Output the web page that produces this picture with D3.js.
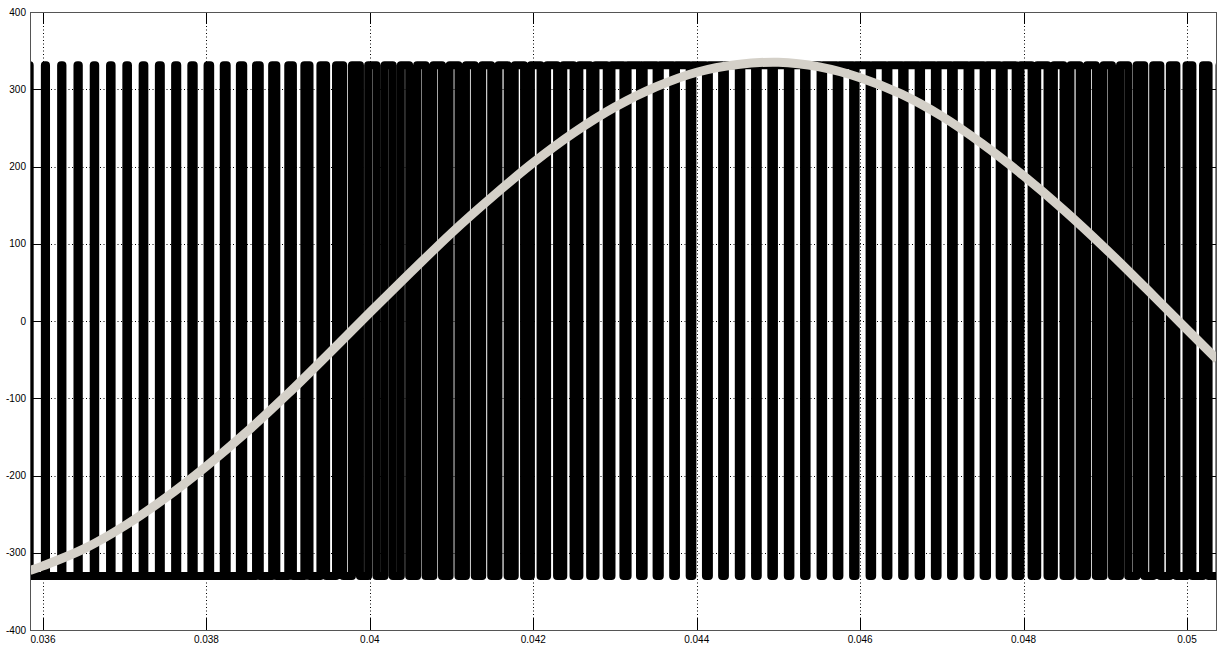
<!DOCTYPE html>
<meta charset="utf-8">

<!-- Load d3.js -->
<script src="https://d3js.org/d3.v7.min.js"></script>

<body>
	<!-- Create a div where the graph will take place -->
	<div id="my_dataviz"></div>
</body>

<style>
body {
  margin: 0;
  background: #fff;
}
.tick-label {
  font-family: Arial, "Liberation Sans", sans-serif;
  font-size: 10px;
  fill: #000;
}
</style>

<script>

	// PWM output: centre of each high pulse (s) and its width (microseconds)
	var pulseCenters = [
		0.03583, 0.03603, 0.03623, 0.03643, 0.03663, 0.03683, 0.03703, 0.03723, 0.03743, 0.03763,
		0.03783, 0.03803, 0.03823, 0.03843, 0.03863, 0.03883, 0.03903, 0.03923, 0.03943, 0.03963,
		0.03983, 0.04003, 0.04023, 0.04043, 0.04063, 0.04083, 0.04103, 0.04123, 0.04143, 0.04163,
		0.04183, 0.04203, 0.04223, 0.04243, 0.04263, 0.04283, 0.04303, 0.04323, 0.04343, 0.04363,
		0.04383, 0.04403, 0.04423, 0.04443, 0.04463, 0.04483, 0.04503, 0.04523, 0.04543, 0.04563,
		0.04583, 0.04603, 0.04623, 0.04643, 0.04663, 0.04683, 0.04703, 0.04723, 0.04743, 0.04763,
		0.04783, 0.04803, 0.04823, 0.04843, 0.04863, 0.04883, 0.04903, 0.04923, 0.04943, 0.04963,
		0.04983, 0.05003, 0.05023, 0.05043
	];
	var pulseWidthsUs = [
		14, 14, 16, 16, 18, 19, 20, 21, 24, 26,
		29, 32, 36, 41, 46, 51, 57, 63, 70, 88,
		98, 102, 100, 102, 104, 106, 108, 108, 110, 112,
		114, 118, 122, 126, 132, 138, 146, 152, 158, 164,
		168, 166, 162, 170, 168, 166, 170, 167, 171, 166,
		168, 171, 166, 168, 172, 169, 165, 168, 162, 155,
		146, 136, 126, 118, 112, 108, 104, 100, 94, 88,
		80, 72, 68, 64
	];
	var levelHigh = 331;
	var levelLow = -330;

	// grey reference wave
	var refTimes = [
		0.03584, 0.0360, 0.0365, 0.0370, 0.0375, 0.0380, 0.0385, 0.0390, 0.0395, 0.0400,
		0.0405, 0.0410, 0.0415, 0.0420, 0.0425, 0.0430, 0.0435, 0.0440, 0.0445, 0.0450,
		0.0455, 0.0460, 0.0465, 0.0470, 0.0475, 0.0480, 0.0485, 0.0490, 0.0495, 0.0500,
		0.05037
	];
	var refValues = [
		-323, -317, -295, -265, -229, -188, -143, -94, -42, 11,
		63, 114, 161, 205, 244, 277, 303, 322, 332, 335,
		329, 315, 294, 265, 229, 188, 143, 94, 42, -11,
		-50
	];

	var xTicks = [0.036, 0.038, 0.04, 0.042, 0.044, 0.046, 0.048, 0.05];
	var xTickLabels = ["0.036", "0.038", "0.04", "0.042", "0.044", "0.046", "0.048", "0.05"];
	var yTicks = [-400, -300, -200, -100, 0, 100, 200, 300, 400];

	//set the dimensions and margins of the graph
	var margin = {top: 12, right: 6, bottom: 20, left: 30},
	    width = 1223 - margin.left - margin.right,
	    height = 650 - margin.top - margin.bottom;
	var tickLen = 12;

	var svg = d3.select("#my_dataviz")
		.append("svg")
		.attr("width", 1223)
		.attr("height", 650)
		.append("g")
		.attr("transform", "translate(" + margin.left + "," + margin.top + ")");

	var x = d3.scaleLinear()
		.domain([0.035841, 0.050367])
		.range([0, width]);

	var y = d3.scaleLinear()
		.domain([-400, 400])
		.range([height, 0]);

	svg.append("clipPath")
		.attr("id", "plot-clip")
		.append("rect")
		.attr("width", width)
		.attr("height", height);

	// dotted grid
	var grid = svg.append("g").attr("class", "grid");
	grid.selectAll(".gx").data(xTicks).enter()
		.append("line")
		.attr("x1", function(d) { return Math.round(x(d)) + 0.5; })
		.attr("x2", function(d) { return Math.round(x(d)) + 0.5; })
		.attr("y1", 0)
		.attr("y2", height)
		.attr("stroke", "#000")
		.attr("stroke-width", 1)
		.attr("stroke-dasharray", "1,2.5");
	grid.selectAll(".gy").data(yTicks.slice(1, -1)).enter()
		.append("line")
		.attr("y1", function(d) { return Math.round(y(d)) + 0.5; })
		.attr("y2", function(d) { return Math.round(y(d)) + 0.5; })
		.attr("x1", 0)
		.attr("x2", width)
		.attr("stroke", "#000")
		.attr("stroke-width", 1)
		.attr("stroke-dasharray", "1,2.5");

	// inward ticks on all four sides
	var ticks = svg.append("g").attr("class", "ticks").attr("stroke", "#000").attr("stroke-width", 1);
	xTicks.forEach(function(d) {
		var px = Math.round(x(d)) + 0.5;
		ticks.append("line").attr("x1", px).attr("x2", px).attr("y1", height).attr("y2", height - tickLen);
		ticks.append("line").attr("x1", px).attr("x2", px).attr("y1", 0).attr("y2", tickLen);
	});
	yTicks.forEach(function(d) {
		var py = Math.round(y(d)) + 0.5;
		ticks.append("line").attr("y1", py).attr("y2", py).attr("x1", 0).attr("x2", tickLen);
		ticks.append("line").attr("y1", py).attr("y2", py).attr("x1", width).attr("x2", width - tickLen);
	});

	// build PWM step points from the pulse arrays
	var pwmPoints = [[x.domain()[0] - 0.0002, levelLow]];
	pulseCenters.forEach(function(c, i) {
		var half = pulseWidthsUs[i] * 1e-6 / 2;
		pwmPoints.push([c - half, levelHigh]);
		pwmPoints.push([c + half, levelLow]);
	});
	pwmPoints.push([x.domain()[1] + 0.0002, levelLow]);

	var plot = svg.append("g").attr("clip-path", "url(#plot-clip)");

	plot.append("path")
		.datum(pwmPoints)
		.attr("fill", "none")
		.attr("stroke", "#000")
		.attr("stroke-width", 8)
		.attr("stroke-linejoin", "round")
		.attr("d", d3.line()
			.x(function(d) { return x(d[0]); })
			.y(function(d) { return y(d[1]); })
			.curve(d3.curveStepAfter));

	plot.append("path")
		.datum(refTimes.map(function(t, i) { return [t, refValues[i]]; }))
		.attr("fill", "none")
		.attr("stroke", "#d4d0c8")
		.attr("stroke-width", 9)
		.attr("stroke-linejoin", "round")
		.attr("d", d3.line()
			.x(function(d) { return x(d[0]); })
			.y(function(d) { return y(d[1]); })
			.curve(d3.curveCatmullRom));

	// axes box
	svg.append("rect")
		.attr("x", 0.5)
		.attr("y", 0.5)
		.attr("width", width - 1)
		.attr("height", height)
		.attr("fill", "none")
		.attr("stroke", "#555")
		.attr("stroke-width", 1);

	// tick labels
	svg.selectAll(".xlab").data(xTicks).enter()
		.append("text")
		.attr("class", "tick-label")
		.attr("x", function(d) { return x(d); })
		.attr("y", height + 13)
		.attr("text-anchor", "middle")
		.text(function(d, i) { return xTickLabels[i]; });

	svg.selectAll(".ylab").data(yTicks).enter()
		.append("text")
		.attr("class", "tick-label")
		.attr("x", -4)
		.attr("y", function(d) { return y(d) + 3.5; })
		.attr("text-anchor", "end")
		.text(function(d) { return d; });

</script>
